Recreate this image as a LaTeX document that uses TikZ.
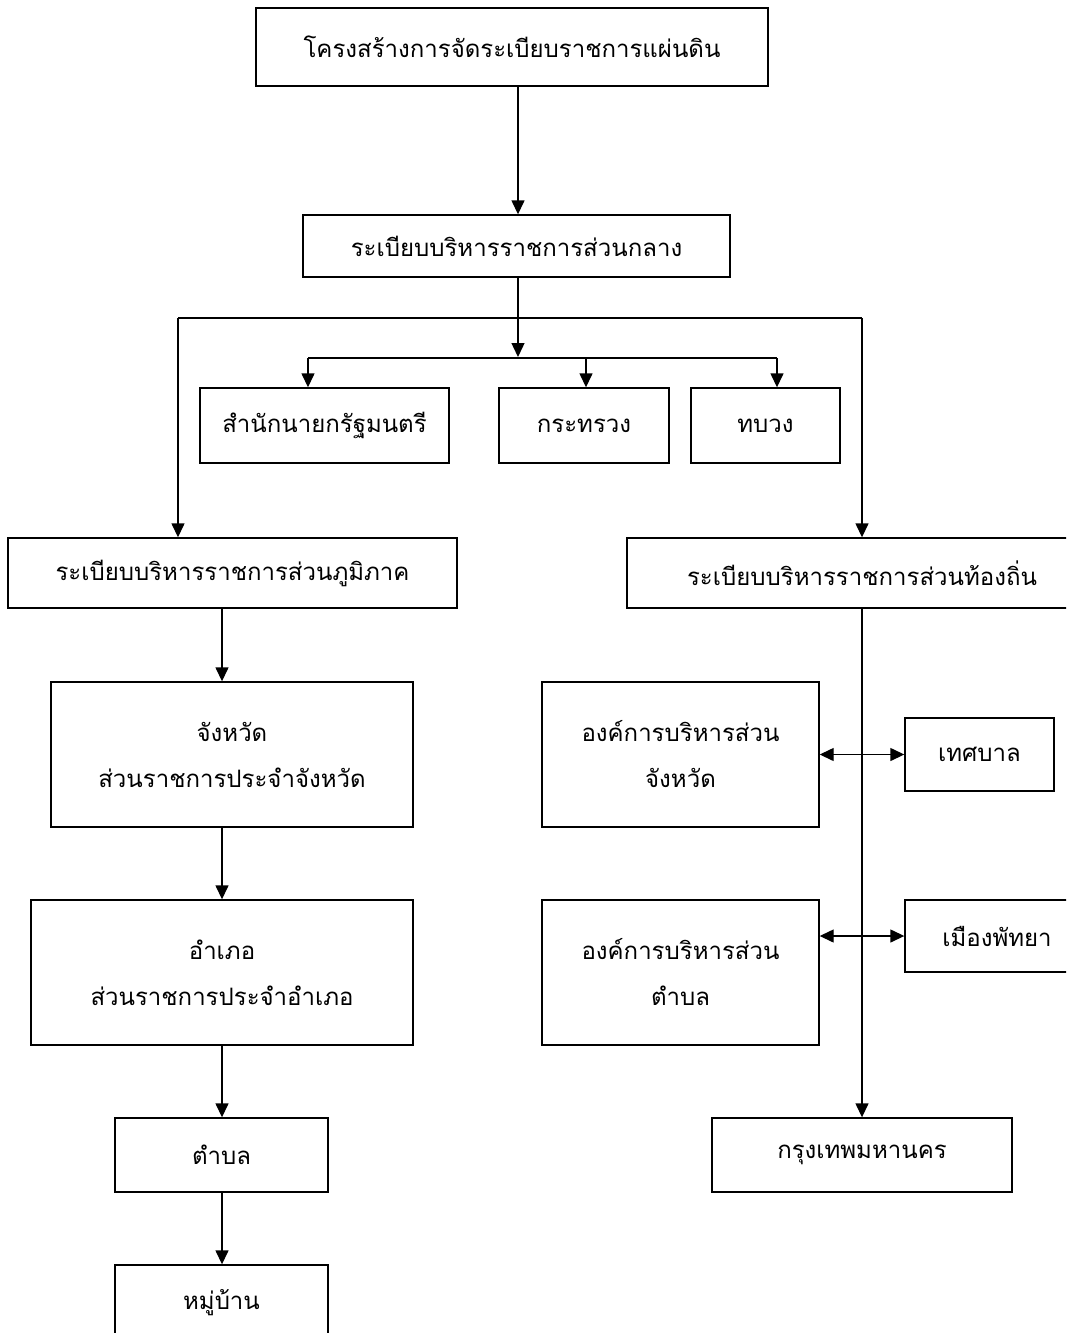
\documentclass[tikz,border=0pt]{standalone}
\usepackage{fontspec}
\newfontfamily\thaifont[Script=Thai]{Loma}
\usetikzlibrary{arrows.meta}

\begin{document}
\begin{tikzpicture}[x=1pt,y=-1pt,
    box/.style={draw,line width=1.4pt,inner sep=0pt,align=center,
                font=\thaifont\fontsize{24}{46}\selectfont},
    link/.style={line width=1.4pt,-{Triangle[width=13pt,length=14pt]}},
    both/.style={line width=1.4pt,{Triangle[width=13pt,length=14pt]}-{Triangle[width=13pt,length=14pt]}}]
    \useasboundingbox (0,0) rectangle (1066,1333);
    \clip (0,0) rectangle (1066,1333);
    % central government
    \node (top)      at (512.0,47.0)   [box,minimum width=512,minimum height=78] {โครงสร้างการจัดระเบียบราชการแผ่นดิน};
    \node (central)  at (516.5,246.0)  [box,minimum width=427,minimum height=62] {ระเบียบบริหารราชการส่วนกลาง};
    \node (pm)       at (324.5,425.5)  [box,minimum width=249,minimum height=75] {สำนักนายกรัฐมนตรี};
    \node (ministry) at (584.0,425.5)  [box,minimum width=170,minimum height=75] {กระทรวง};
    \node (bureau)   at (765.5,425.5)  [box,minimum width=149,minimum height=75] {ทบวง};
    % regional
    \node (regional) at (232.5,573.0)  [box,minimum width=449,minimum height=70] {ระเบียบบริหารราชการส่วนภูมิภาค};
    \node (province) at (232.0,754.5)  [box,minimum width=362,minimum height=145] {จังหวัด\\ส่วนราชการประจำจังหวัด};
    \node (district) at (222.0,972.5)  [box,minimum width=382,minimum height=145] {อำเภอ\\ส่วนราชการประจำอำเภอ};
    \node (tambon)   at (221.5,1155.0) [box,minimum width=213,minimum height=74] {ตำบล};
    \node (village)  at (221.5,1302.5) [box,minimum width=213,minimum height=75] {หมู่บ้าน};
    % local
    \node (local)    at (862.0,573.0)  [box,minimum width=470,minimum height=70] {ระเบียบบริหารราชการส่วนท้องถิ่น};
    \node (pao)      at (680.5,754.5)  [box,minimum width=277,minimum height=145] {องค์การบริหารส่วน\\จังหวัด};
    \node (muni)     at (979.5,754.5)  [box,minimum width=149,minimum height=73] {เทศบาล};
    \node (tao)      at (680.5,972.5)  [box,minimum width=277,minimum height=145] {องค์การบริหารส่วน\\ตำบล};
    \node (pattaya)  at (997.0,936.0)  [box,minimum width=184,minimum height=72] {เมืองพัทยา};
    \node (bkk)      at (862.0,1155.0) [box,minimum width=300,minimum height=74] {กรุงเทพมหานคร};
    \coordinate (hub)    at (518,357);
    \coordinate (lsplit) at (178,318);
    \coordinate (rsplit) at (862,318);
    \coordinate (barL)   at (308,358);
    \coordinate (barR)   at (777,358);
    % connectors
    \draw[link] (top.south -| hub) -- (central.north -| hub);
    \draw[link] (central.south -| hub) -- (hub);
    \draw[line width=1.4pt] (lsplit) -- (rsplit);
    \draw[link] (lsplit) -- (lsplit |- regional.north);
    \draw[link] (rsplit) -- (local.north);
    \draw[line width=1.4pt] (barL) -- (barR);
    \draw[link] (barL) -- (barL |- pm.north);
    \draw[link] (barL -| 586,0) -- (ministry.north -| 586,0);
    \draw[link] (barR) -- (barR |- bureau.north);
    \draw[link] (regional.south -| district) -- (province.north -| district);
    \draw[link] (province.south -| district) -- (district.north);
    \draw[link] (district.south) -- (tambon.north -| district);
    \draw[link] (tambon.south -| district) -- (village.north -| district);
    \draw[link] (local.south) -- (bkk.north);
    \draw[both] (pao.east) -- (muni.west);
    \draw[both] (tao.east |- pattaya) -- (pattaya.west);
\end{tikzpicture}
\end{document}
